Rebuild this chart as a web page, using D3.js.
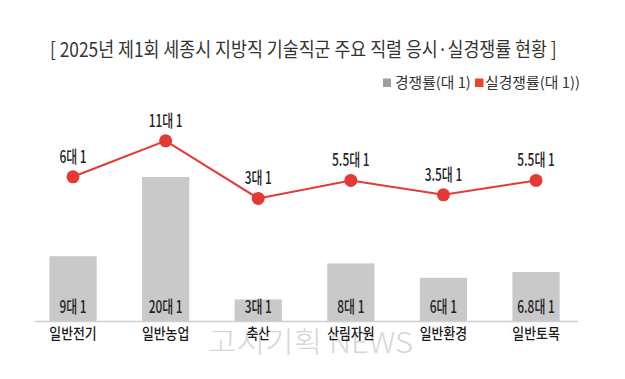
<!DOCTYPE html>
<html>
<head>
<meta charset="utf-8">
<script src="https://cdn.jsdelivr.net/npm/d3@7"></script>
<style>
  html, body { margin: 0; padding: 0; background: #fff; }
  svg { display: block; }
  text { font-family: "Noto Sans CJK KR", "Noto Sans", sans-serif; }
</style>
</head>
<body>
<div id="chart"></div>
<script>
// ---- data ----
const title = "[ 2025년 제1회 세종시 지방직 기술직군 주요 직렬 응시·실경쟁률 현황 ]";
const categories = ["일반전기", "일반농업", "축산", "산림자원", "일반환경", "일반토목"];
const competition = [9, 20, 3, 8, 6, 6.8];          // 경쟁률 (bars)
const realCompetition = [6, 11, 3, 5.5, 3.5, 5.5];  // 실경쟁률 (line)
const legendLabels = ["경쟁률(대 1)", "실경쟁률(대 1))"];
const watermark = "고시기획 NEWS";
const fmt = v => v + "대 1";

// ---- layout ----
const W = 625, H = 379;
const svg = d3.select("#chart").append("svg").attr("width", W).attr("height", H);

const x = d3.scaleBand().domain(categories).range([26.25, 582.8])
  .paddingInner(0.49).paddingOuter(0.25);
const yBar = d3.scaleLinear().domain([0, 20]).range([321, 177]);
const yLine = d3.scaleLinear().domain([0, 20]).range([220, 76]);

const barColor = "#c9c9c9";
const red = "#e53935";

function condensedText(g, xPos, yPos, str, size, sx, opts = {}) {
  return g.append("text")
    .attr("transform", `translate(${xPos},${yPos}) scale(${sx},1)`)
    .attr("text-anchor", opts.anchor || "middle")
    .attr("font-size", size)
    .attr("font-weight", opts.weight || 500)
    .attr("fill", opts.fill || "#222")
    .text(str);
}

// text fitted to a width by horizontal scaling (start anchored)
function fittedText(g, xPos, yPos, str, size, width, opts = {}) {
  const t = g.append("text")
    .attr("font-size", size)
    .attr("font-weight", opts.weight || 400)
    .attr("fill", opts.fill || "#333")
    .text(str);
  const natural = t.node().getComputedTextLength() || width;
  const sx = width / natural;
  t.attr("transform", `translate(${xPos},${yPos}) scale(${sx},1)`);
  return t;
}

// title
fittedText(svg, 50, 57, title, 20, 507, { fill: "#333" });

// legend
const legend = svg.append("g");
legend.append("rect").attr("x", 383).attr("y", 78.5).attr("width", 8).attr("height", 8.5).attr("fill", "#9e9e9e");
fittedText(legend, 395, 88, legendLabels[0], 14.5, 76, { fill: "#333" });
legend.append("rect").attr("x", 475).attr("y", 78.5).attr("width", 8.5).attr("height", 8.5).attr("fill", "#e8452c");
fittedText(legend, 485, 88, legendLabels[1], 14.5, 95, { fill: "#333" });

// watermark
fittedText(svg, 208, 353, watermark, 29, 205, { weight: 300, fill: "#d6d6d6" });

// bars
svg.append("g").selectAll("rect").data(categories).join("rect")
  .attr("x", d => x(d))
  .attr("y", (d, i) => yBar(competition[i]))
  .attr("width", x.bandwidth())
  .attr("height", (d, i) => yBar(0) - yBar(competition[i]))
  .attr("fill", barColor);

// axis baseline
svg.append("line")
  .attr("x1", 35).attr("x2", 578)
  .attr("y1", yBar(0) + 0.5).attr("y2", yBar(0) + 0.5)
  .attr("stroke", "#cfcfcf").attr("stroke-width", 1.5);

// bar value labels
const barLabels = svg.append("g");
categories.forEach((c, i) => {
  condensedText(barLabels, x(c) + x.bandwidth() / 2, 313, fmt(competition[i]), 17, 0.7);
});

// category labels
const catLabels = svg.append("g");
categories.forEach((c) => {
  condensedText(catLabels, x(c) + x.bandwidth() / 2, 339, c, 15, 0.86, { weight: 500, fill: "#1a1a1a" });
});

// line
const cx = c => x(c) + x.bandwidth() / 2;
svg.append("path")
  .datum(categories)
  .attr("fill", "none")
  .attr("stroke", red)
  .attr("stroke-width", 2)
  .attr("d", d3.line().x(d => cx(d)).y((d, i) => yLine(realCompetition[i])));

svg.append("g").selectAll("circle").data(categories).join("circle")
  .attr("cx", d => cx(d))
  .attr("cy", (d, i) => yLine(realCompetition[i]))
  .attr("r", 6.5)
  .attr("fill", red);

// line value labels
const lineLabels = svg.append("g");
categories.forEach((c, i) => {
  condensedText(lineLabels, cx(c), yLine(realCompetition[i]) - 14, fmt(realCompetition[i]), 17, 0.7);
});
</script>
</body>
</html>
